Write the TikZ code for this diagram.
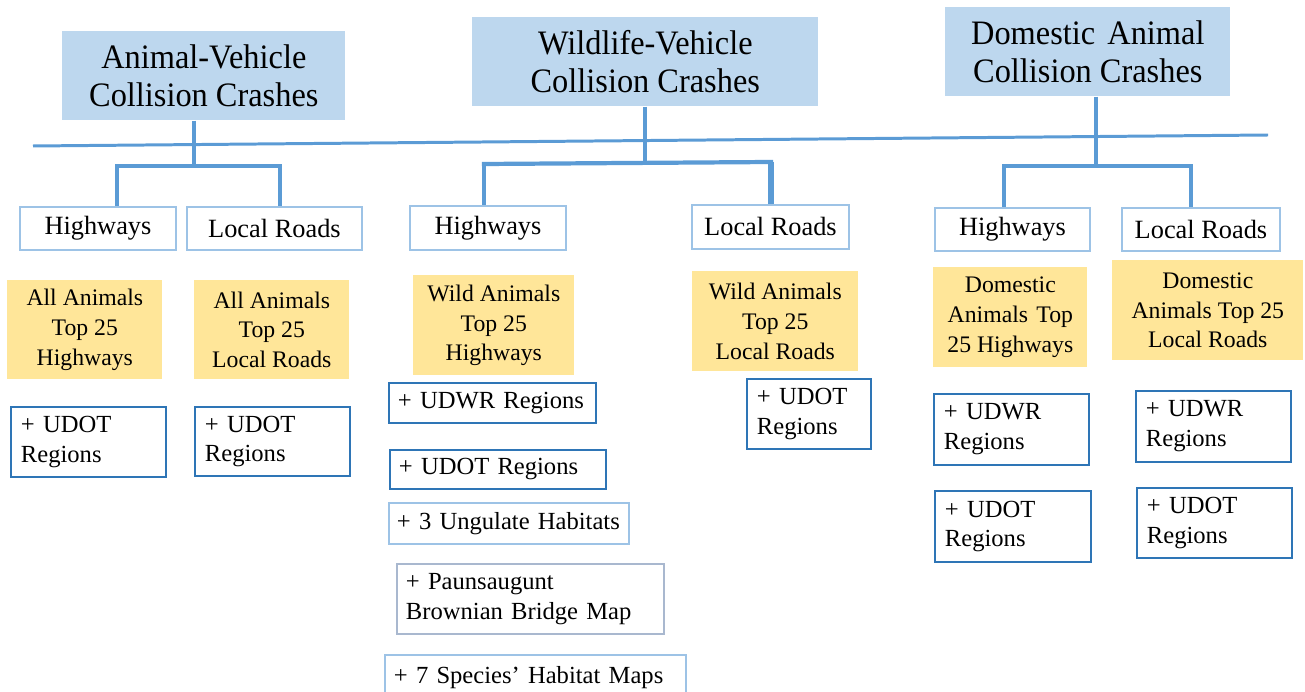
\documentclass[tikz,border=0pt]{standalone}
\usepackage{fontspec}
\setmainfont{Liberation Serif}
\newfontfamily\titlefont{Liberation Serif}[FakeStretch=0.945]
\hyphenpenalty=10000
\exhyphenpenalty=10000
\definecolor{titlefill}{HTML}{BDD7EE}
\definecolor{yellowfill}{HTML}{FFE699}
\definecolor{linecol}{HTML}{5B9BD5}
\definecolor{lightborder}{HTML}{9DC3E6}
\definecolor{regborder}{HTML}{2E75B6}
\definecolor{grayborder}{HTML}{A9B8CF}
\begin{document}
\begin{tikzpicture}[x=0.02cm,y=-0.02cm,
  titlebox/.style={anchor=north west, fill=titlefill, draw=none, align=center, inner sep=0pt,
    minimum height=1.78cm, font=\titlefont\fontsize{19.5}{21.6}\selectfont},
  roadbox/.style={anchor=north west, fill=white, draw=lightborder, line width=1.1pt, align=center,
    inner sep=0pt, font=\fontsize{15}{18}\selectfont},
  topbox/.style={anchor=north west, fill=yellowfill, draw=none, align=center, inner sep=0pt,
    font=\fontsize{13.5}{17}\selectfont},
  regbox/.style={anchor=north west, fill=white, draw=regborder, line width=1.1pt, align=left,
    inner xsep=0.2cm, inner ysep=0pt, font=\fontsize{14}{17}\selectfont},
  mainline/.style={draw=linecol, line width=1.7pt},
  conn/.style={draw=linecol, line width=2.4pt},
]
\useasboundingbox (0,0) rectangle (1305,692);
\clip (0,0) rectangle (1305,692);

% titles
\node[titlebox, minimum width=5.66cm] (T1) at (62,31) {Animal-Vehicle\\Collision Crashes};
\node[titlebox, minimum width=6.92cm] (T2) at (472,17) {Wildlife-Vehicle\\Collision Crashes};
\node[titlebox, minimum width=5.70cm] (T3) at (945,7) {Domestic\hspace{0.12em} Animal\\Collision Crashes};

% road boxes
\node[roadbox, minimum width=3.12cm, minimum height=0.86cm] (H1) at (19,206) {Highways};
\node[roadbox, minimum width=3.50cm, minimum height=0.86cm] (L1) at (186,206) {Local Roads};
\node[roadbox, minimum width=3.12cm, minimum height=0.88cm] (H2) at (409,205) {Highways};
\node[roadbox, minimum width=3.14cm, minimum height=0.88cm] (L2) at (691,204) {Local Roads};
\node[roadbox, minimum width=3.10cm, minimum height=0.86cm] (H3) at (934,207) {Highways};
\node[roadbox, minimum width=3.16cm, minimum height=0.86cm] (L3) at (1121,207) {Local Roads};

% yellow boxes
\node[topbox, minimum width=3.10cm, minimum height=1.98cm] (Y1) at (7,280) {All Animals\\Top 25\\Highways};
\node[topbox, minimum width=3.10cm, minimum height=1.98cm] (Y2) at (194,280) {All Animals\\Top 25\\Local Roads};
\node[topbox, minimum width=3.22cm, minimum height=2.00cm] (Y3) at (413,275) {Wild Animals\\Top 25\\Highways};
\node[topbox, minimum width=3.32cm, minimum height=2.00cm] (Y4) at (692,271) {Wild Animals\\Top 25\\Local Roads};
\node[topbox, minimum width=3.08cm, minimum height=2.00cm] (Y5) at (933,267) {Domestic\\Animals\hspace{0.1em} Top\\25 Highways};
\node[topbox, minimum width=3.82cm, minimum height=2.00cm] (Y6) at (1112,260) {Domestic\\Animals Top 25\\Local Roads};

% region boxes
\node[regbox, text width=2.70cm, minimum height=1.40cm] (R1) at (10,406) {+ UDOT\\Regions};
\node[regbox, text width=2.70cm, minimum height=1.38cm] (R2) at (194,406) {+ UDOT\\Regions};
\node[regbox, text width=3.78cm, minimum height=0.80cm, inner xsep=0.18cm] (R3) at (388,382) {+ UDWR Regions};
\node[regbox, text width=3.96cm, minimum height=0.78cm, inner xsep=0.18cm] (R4) at (389,449) {+ UDOT Regions};
\node[regbox, draw=lightborder, text width=4.48cm, minimum height=0.82cm, inner xsep=0.16cm] (R5) at (388,502) {+ 3 Ungulate Habitats};
\node[regbox, draw=grayborder, text width=4.98cm, minimum height=1.40cm, inner xsep=0.18cm] (R6) at (396,563) {+ Paunsaugunt\\Brownian Bridge Map};
\node[regbox, draw=lightborder, text width=5.66cm, minimum height=0.92cm, inner xsep=0.18cm] (R7) at (384,654) {+ 7 Species’ Habitat Maps};
\node[regbox, text width=2.08cm, minimum height=1.40cm] (R8) at (746,378) {+ UDOT\\Regions};
\node[regbox, text width=2.70cm, minimum height=1.42cm] (R9) at (933,393) {+ UDWR\\Regions};
\node[regbox, text width=2.72cm, minimum height=1.42cm] (R10) at (934,490) {+ UDOT\\Regions};
\node[regbox, text width=2.70cm, minimum height=1.42cm] (R11) at (1135,390) {+ UDWR\\Regions};
\node[regbox, text width=2.70cm, minimum height=1.40cm] (R12) at (1136,487) {+ UDOT\\Regions};

% main horizontal line
\coordinate (ml) at (33,146);
\coordinate (mr) at (1268,135);
\draw[mainline] (ml) -- (mr);

% tree 1
\coordinate (j1) at (194,166);
\coordinate (j1l) at (117,166);
\coordinate (j1r) at (280,166);
\draw[conn] (T1.south -| j1) -- (j1);
\draw[conn, line cap=rect] (j1l) -- (j1r);
\draw[conn] (j1l) -- (j1l |- H1.north);
\draw[conn] (j1r) -- (j1r |- L1.north);

% tree 2
\coordinate (j2) at (645,163);
\coordinate (j2l) at (484,164);
\coordinate (j2r) at (771,162);
\draw[conn] (T2.south -| j2) -- (j2);
\draw[conn, line cap=rect] (j2l) -- (j2r);
\draw[conn] (j2l) -- (j2l |- H2.north);
\draw[conn, line width=3.2pt] (j2r) -- (j2r |- L2.north);

% tree 3
\coordinate (j3) at (1096,166);
\coordinate (j3l) at (1004,166);
\coordinate (j3r) at (1191,166);
\draw[conn] (T3.south -| j3) -- (j3);
\draw[conn, line cap=rect] (j3l) -- (j3r);
\draw[conn] (j3l) -- (j3l |- H3.north);
\draw[conn] (j3r) -- (j3r |- L3.north);
\end{tikzpicture}
\end{document}
